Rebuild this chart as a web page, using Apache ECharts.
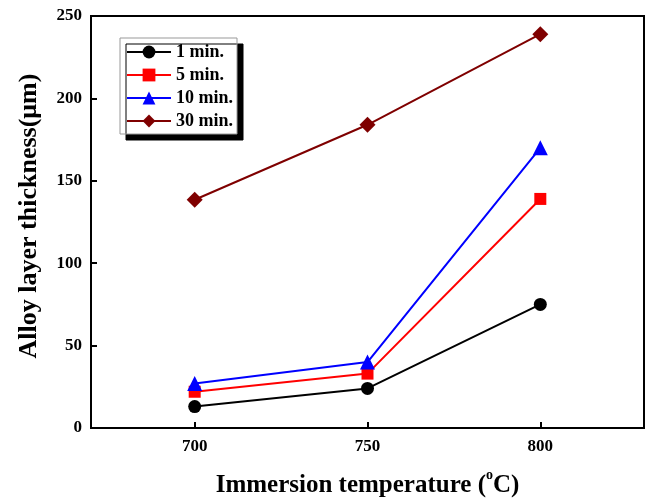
<!DOCTYPE html>
<html>
<head>
<meta charset="utf-8">
<script src="https://cdn.jsdelivr.net/npm/echarts@6/dist/echarts.min.js"></script>
<style>
  html, body { margin: 0; padding: 0; background: #fff; }
  #main { width: 649px; height: 498px; }
</style>
</head>
<body>
<div id="main"></div>
<script>
// immersion temperatures (°C)
var temps = [700, 750, 800];
var xTicks = [700, 750, 800];
// alloy layer thickness (um) per immersion time
var min1 = [13, 24, 75];
var min5 = [22, 33, 139];
var min10 = [27, 40, 170];
var min30 = [138.5, 184, 239];
var seriesNames = ['1 min.', '5 min.', '10 min.', '30 min.'];

var font = 'Liberation Serif, Times New Roman, serif';
var chart = echarts.init(document.getElementById('main'), null, { renderer: 'canvas' });

function pairs(vals) {
  return temps.map(function (t, i) { return [t, vals[i]]; });
}

function mkSeries(name, vals, color, symbol, size) {
  return {
    name: name,
    type: 'line',
    data: pairs(vals),
    symbol: symbol,
    symbolSize: size,
    showAllSymbol: true,
    lineStyle: { color: color, width: 2 },
    itemStyle: { color: color },
    emphasis: { disabled: true }
  };
}

var option = {
  backgroundColor: '#fff',
  animation: false,
  grid: {
    left: 91, right: 5, top: 16, bottom: 70,
    outerBoundsMode: 'none',
    show: true, borderColor: '#000', borderWidth: 2
  },
  legend: {
    orient: 'vertical',
    left: 120, top: 38,
    padding: [5, 4, 4, 6],
    itemWidth: 44, itemHeight: 16, itemGap: 5,
    backgroundColor: '#fff',
    borderColor: '#999', borderWidth: 1,
    shadowColor: '#000', shadowBlur: 0, shadowOffsetX: 6, shadowOffsetY: 6,
    textStyle: { fontFamily: font, fontWeight: 'bold', fontSize: 18, color: '#000' },
    data: seriesNames
  },
  xAxis: {
    type: 'value',
    min: 670, max: 830,
    name: 'Immersion temperature ({sup|o}C)',
    nameLocation: 'middle',
    nameGap: 40,
    nameTextStyle: {
      fontFamily: font, fontWeight: 'bold', fontSize: 25, lineHeight: 36, color: '#000',
      rich: {
        sup: { fontFamily: font, fontSize: 14, lineHeight: 14, color: '#000', verticalAlign: 'top' }
      }
    },
    axisLine: { lineStyle: { color: '#000', width: 2 } },
    axisTick: { inside: true, length: 6, customValues: xTicks, lineStyle: { color: '#000', width: 2 } },
    axisLabel: { customValues: xTicks, fontFamily: font, fontWeight: 'bold', fontSize: 17, color: '#000', margin: 10 },
    splitLine: { show: false }
  },
  yAxis: {
    type: 'value',
    min: 0, max: 250, interval: 50,
    name: 'Alloy layer thickness(\u03bcm)',
    nameLocation: 'middle',
    nameGap: 49,
    nameTextStyle: { fontFamily: font, fontWeight: 'bold', fontSize: 26, color: '#000', padding: [0, 0, 0, 12] },
    axisLine: { lineStyle: { color: '#000', width: 2 } },
    axisTick: { inside: true, length: 6, lineStyle: { color: '#000', width: 2 } },
    axisLabel: { fontFamily: font, fontWeight: 'bold', fontSize: 17, color: '#000', margin: 9 },
    splitLine: { show: false }
  },
  series: [
    mkSeries(seriesNames[0], min1, '#000000', 'circle', 13),
    mkSeries(seriesNames[1], min5, '#ff0000', 'rect', 12),
    mkSeries(seriesNames[2], min10, '#0000ff', 'triangle', 15),
    mkSeries(seriesNames[3], min30, '#7f0000', 'diamond', 16)
  ]
};

chart.setOption(option);
</script>
</body>
</html>
